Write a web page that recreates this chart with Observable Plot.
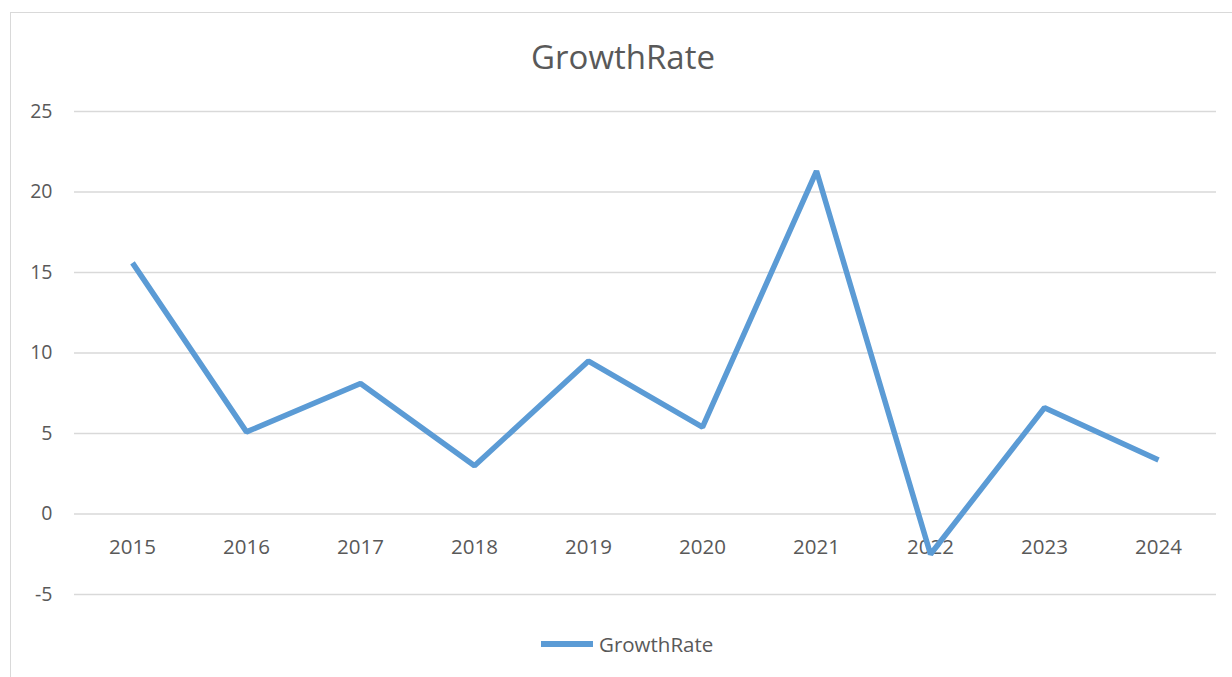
<!DOCTYPE html>
<html><head><meta charset="utf-8">
<script src="https://cdn.jsdelivr.net/npm/d3@7"></script>
<script src="https://cdn.jsdelivr.net/npm/@observablehq/plot@0.6"></script>
<style>
body{margin:0;background:#fff;font-family:"Open Sans",sans-serif;}
#wrap{position:relative;width:1232px;height:677px;overflow:hidden;}
#frame{position:absolute;left:10px;top:12px;width:1240px;height:700px;border:1.5px solid #d9d9d9;box-sizing:border-box;}
#title{position:absolute;left:0;width:1246px;top:34px;text-align:center;font-size:33px;color:#595959;}
#chart{position:absolute;left:0;top:0;}
#legend{position:absolute;left:541px;top:630px;display:flex;align-items:center;font-size:20.5px;color:#595959;}
#legend .sw{width:52px;height:5.5px;background:#5b9bd5;margin-right:6px;}
</style></head>
<body>
<div id="wrap">
<div id="frame"></div>
<div id="chart"></div>
<div id="title">GrowthRate</div>
<div id="legend"><div class="sw"></div><span>GrowthRate</span></div>
</div>
<script>
const years = ["2015","2016","2017","2018","2019","2020","2021","2022","2023","2024"];
const growthRate = [15.6, 5.1, 8.1, 3.0, 9.5, 5.4, 21.3, -2.5, 6.6, 3.35];
const yTicks = [-5, 0, 5, 10, 15, 20, 25];

const data = years.map((y, i) => ({year: y, value: growthRate[i]}));

const chart = Plot.plot({
  width: 1232,
  height: 677,
  marginLeft: 74,
  marginRight: 16,
  marginTop: 111,
  marginBottom: 83,
  style: {fontFamily: "Open Sans, sans-serif", fontSize: "19px", color: "#595959", background: "transparent"},
  x: {type: "band", domain: years, padding: 0, axis: null},
  y: {domain: [-5, 25], ticks: yTicks, axis: null, label: null},
  marks: [
    Plot.ruleY(yTicks, {stroke: "#d9d9d9", strokeWidth: 1.5}),
    Plot.axisY({ticks: yTicks, tickSize: 0, tickPadding: 22, fontSize: 19.5, fill: "#595959", label: null, tickFormat: d => String(d)}),
    Plot.text(data, {x: "year", y: 0, text: "year", dy: 33, fontSize: 20.5, fill: "#595959"}),
    Plot.line(data, {x: "year", y: "value", stroke: "#5b9bd5", strokeWidth: 5.5, strokeLinecap: "butt", strokeLinejoin: "miter"})
  ]
});
document.getElementById("chart").appendChild(chart);
</script>
</body></html>
